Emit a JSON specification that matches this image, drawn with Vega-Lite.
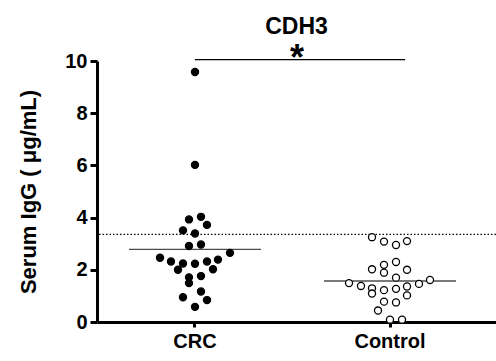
{
  "$schema": "https://vega.github.io/schema/vega-lite/v6.json",
  "autosize": "none",
  "width": 399,
  "height": 261,
  "padding": {"left": 97, "top": 61, "right": 0, "bottom": 39},
  "background": "white",
  "title": {
    "text": "CDH3",
    "font": "Liberation Sans",
    "fontSize": 23,
    "fontWeight": "bold",
    "color": "black",
    "anchor": "middle",
    "offset": 2
  },
  "datasets": {
    "points": [
      {"group": "CRC", "value": 9.58, "jitter": 0},
      {"group": "CRC", "value": 6.02, "jitter": 0},
      {"group": "CRC", "value": 4.03, "jitter": 6},
      {"group": "CRC", "value": 3.93, "jitter": -6},
      {"group": "CRC", "value": 3.72, "jitter": 12},
      {"group": "CRC", "value": 3.51, "jitter": -12},
      {"group": "CRC", "value": 3.39, "jitter": 0},
      {"group": "CRC", "value": 2.97, "jitter": 6},
      {"group": "CRC", "value": 2.91, "jitter": -6},
      {"group": "CRC", "value": 2.65, "jitter": 35},
      {"group": "CRC", "value": 2.46, "jitter": -35},
      {"group": "CRC", "value": 2.39, "jitter": 23},
      {"group": "CRC", "value": 2.32, "jitter": -24},
      {"group": "CRC", "value": 2.32, "jitter": 12},
      {"group": "CRC", "value": 2.24, "jitter": -12},
      {"group": "CRC", "value": 2.23, "jitter": 0},
      {"group": "CRC", "value": 2.02, "jitter": 18},
      {"group": "CRC", "value": 2.0, "jitter": -17},
      {"group": "CRC", "value": 1.76, "jitter": 6},
      {"group": "CRC", "value": 1.71, "jitter": -6},
      {"group": "CRC", "value": 1.49, "jitter": -6},
      {"group": "CRC", "value": 1.17, "jitter": 6},
      {"group": "CRC", "value": 0.95, "jitter": -12},
      {"group": "CRC", "value": 0.84, "jitter": 12},
      {"group": "CRC", "value": 0.58, "jitter": 0},
      {"group": "Control", "value": 3.25, "jitter": -18},
      {"group": "Control", "value": 3.08, "jitter": -6},
      {"group": "Control", "value": 2.95, "jitter": 6},
      {"group": "Control", "value": 3.1, "jitter": 17},
      {"group": "Control", "value": 2.3, "jitter": 6},
      {"group": "Control", "value": 2.19, "jitter": -6},
      {"group": "Control", "value": 2.02, "jitter": -18},
      {"group": "Control", "value": 1.89, "jitter": -6},
      {"group": "Control", "value": 2.0, "jitter": 17},
      {"group": "Control", "value": 1.7, "jitter": 6},
      {"group": "Control", "value": 1.49, "jitter": -41},
      {"group": "Control", "value": 1.38, "jitter": -29},
      {"group": "Control", "value": 1.29, "jitter": -18},
      {"group": "Control", "value": 1.22, "jitter": -6},
      {"group": "Control", "value": 1.27, "jitter": 6},
      {"group": "Control", "value": 1.36, "jitter": 17},
      {"group": "Control", "value": 1.46, "jitter": 29},
      {"group": "Control", "value": 1.61, "jitter": 40},
      {"group": "Control", "value": 1.09, "jitter": -18},
      {"group": "Control", "value": 1.02, "jitter": 17},
      {"group": "Control", "value": 0.78, "jitter": -6},
      {"group": "Control", "value": 0.75, "jitter": 6},
      {"group": "Control", "value": 0.44, "jitter": -12},
      {"group": "Control", "value": 0.09, "jitter": 0},
      {"group": "Control", "value": 0.09, "jitter": 12}
    ],
    "means": [
      {"group": "CRC", "mean": 2.78},
      {"group": "Control", "mean": 1.57}
    ],
    "cutoff": [{"cutoff": 3.36}],
    "sig": [{"from": "CRC", "to": "Control", "level": 10.05, "label": "*", "starlevel": 9.65}]
  },
  "config": {
    "view": {"stroke": null},
    "axis": {"grid": false}
  },
  "encoding": {
    "x": {
      "field": "group",
      "type": "nominal",
      "sort": ["CRC", "Control"],
      "scale": {"domain": ["CRC", "Control"], "paddingInner": 0.5, "paddingOuter": 0.273, "align": 0.4624},
      "axis": {
        "title": null,
        "labelAngle": 0,
        "labelFont": "Liberation Sans",
        "labelFontSize": 20,
        "labelFontWeight": "bold",
        "labelColor": "black",
        "labelPadding": 4,
        "domainColor": "black",
        "domainWidth": 3,
        "tickColor": "black",
        "tickWidth": 3,
        "tickSize": 5
      }
    }
  },
  "layer": [
    {
      "data": {"name": "cutoff"},
      "mark": {"type": "rule", "color": "black", "strokeWidth": 1.2, "strokeDash": [1.5, 2]},
      "encoding": {
        "x": null,
        "y": {
          "field": "cutoff",
          "type": "quantitative",
          "scale": {"domain": [0, 10], "nice": false},
          "axis": {
            "title": "Serum IgG ( μg/mL)",
            "titleFont": "Liberation Sans",
            "titleFontSize": 22,
            "titleFontWeight": "bold",
            "titleColor": "black",
            "titlePadding": 24,
            "values": [0, 2, 4, 6, 8, 10],
            "labelFont": "Liberation Sans",
            "labelFontSize": 20,
            "labelFontWeight": "bold",
            "labelColor": "black",
            "labelPadding": 3,
            "domainColor": "black",
            "domainWidth": 3,
            "tickColor": "black",
            "tickWidth": 3,
            "tickSize": 7
          }
        }
      }
    },
    {
      "data": {"name": "means"},
      "mark": {"type": "tick", "orient": "horizontal", "color": "black", "size": 132, "thickness": 1.3},
      "encoding": {
        "y": {"field": "mean", "type": "quantitative"}
      }
    },
    {
      "data": {"name": "points"},
      "mark": {"type": "point", "shape": "circle", "size": 50, "stroke": "black", "strokeWidth": 1.3, "opacity": 1, "filled": false},
      "encoding": {
        "xOffset": {"field": "jitter", "type": "quantitative", "scale": {"domain": [-48.75, 48.75], "range": [0, 97.5]}},
        "y": {"field": "value", "type": "quantitative"},
        "fill": {"field": "group", "type": "nominal", "scale": {"domain": ["CRC", "Control"], "range": ["black", "white"]}, "legend": null}
      }
    },
    {
      "data": {"name": "sig"},
      "mark": {"type": "rule", "color": "black", "strokeWidth": 1.3, "clip": false},
      "encoding": {
        "x": {"field": "from", "type": "nominal", "bandPosition": 0.5},
        "x2": {"field": "to", "bandPosition": 0.654},
        "y": {"field": "level", "type": "quantitative"}
      }
    },
    {
      "data": {"name": "sig"},
      "mark": {"type": "text", "font": "Liberation Sans", "fontSize": 36, "fontWeight": "bold", "color": "black", "baseline": "alphabetic", "clip": false},
      "encoding": {
        "x": {"field": "from", "type": "nominal", "bandPosition": 1.546},
        "y": {"field": "starlevel", "type": "quantitative"},
        "text": {"field": "label"}
      }
    }
  ]
}
